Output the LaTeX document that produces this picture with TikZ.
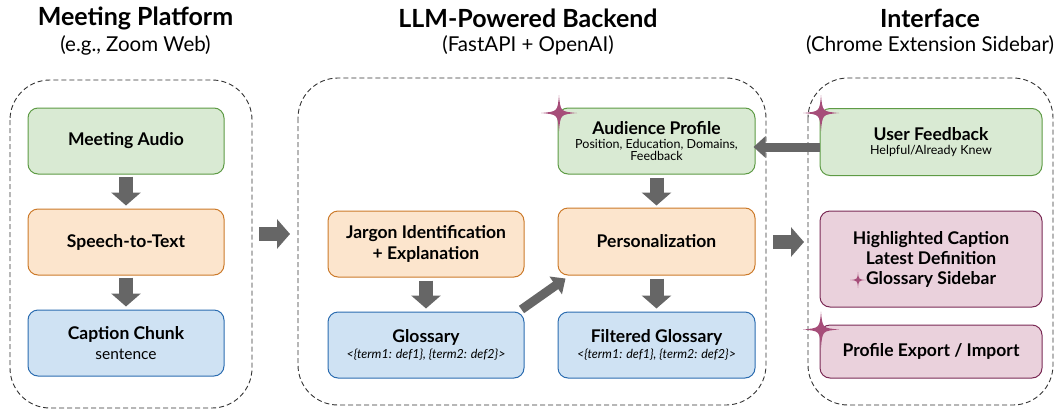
\documentclass[tikz,border=0pt]{standalone}
\usepackage{fontspec}
\setmainfont{Lato}
\usetikzlibrary{arrows.meta}
\definecolor{gfill}{HTML}{D9EAD3}\definecolor{gdraw}{HTML}{5E9B45}
\definecolor{ofill}{HTML}{FCE5CD}\definecolor{odraw}{HTML}{CC7A2A}
\definecolor{bfill}{HTML}{CFE2F3}\definecolor{bdraw}{HTML}{2B6CB0}
\definecolor{pfill}{HTML}{EAD1DC}\definecolor{pdraw}{HTML}{7A2A55}
\definecolor{arr}{HTML}{666666}
\definecolor{starc}{HTML}{A64D79}
\newcommand\spark[3]{\fill[starc,shift={(#1,#2)},scale=#3] (1,0) .. controls (0.08,0.08) .. (0,1) .. controls (-0.08,0.08) .. (-1,0) .. controls (-0.08,-0.08) .. (0,-1) .. controls (0.08,-0.08) .. (1,0) -- cycle;}
\newcommand\smallf{\fontsize{12.5}{14.5}\selectfont\mdseries}
\newcommand\boldf{\fontsize{17.5}{19}\selectfont\bfseries}
\tikzset{
  box/.style={draw,rounded corners=10pt,line width=1pt,align=center,inner sep=2pt},
  gbox/.style={box,fill=gfill,draw=gdraw},
  obox/.style={box,fill=ofill,draw=odraw},
  bbox/.style={box,fill=bfill,draw=bdraw},
  pbox/.style={box,fill=pfill,draw=pdraw},
  cont/.style={draw=black!80,dash pattern=on 5pt off 3pt,line width=0.9pt,rounded corners=40pt},
  bigarrow/.style={draw=arr,line width=14pt,-{Triangle[length=13pt,width=29pt]}},
  thinarrow/.style={draw=arr,line width=9pt,-{Triangle[length=12pt,width=21pt]}},
  ttl/.style={font=\fontsize{25}{30}\selectfont\bfseries},
  sub/.style={font=\fontsize{20.5}{24}\selectfont},
  bt/.style={font=\fontsize{17.5}{20}\selectfont\bfseries},
}
\begin{document}
\begin{tikzpicture}[x=1pt,y=-1pt]
\useasboundingbox (0,0) rectangle (1060,410);
% titles
\node[ttl] (t1) at (135.5,18) {Meeting Platform};
\node[sub] (s1) at (135.5,45) {(e.g., Zoom Web)};
\node[ttl] (t2) at (528,18) {LLM-Powered Backend};
\node[sub] (s2) at (528,45) {(FastAPI + OpenAI)};
\node[ttl] (t3) at (930,18) {Interface};
\node[sub] (s3) at (930,45) {(Chrome Extension Sidebar)};
% containers
\draw[cont] (10,80) rectangle (252,408);
\draw[cont] (298,78) rectangle (766,405);
\draw[cont] (808,78) rectangle (1053,405);
% left column
\node[gbox,minimum width=196pt,minimum height=66pt,bt] (ma) at (126,141) {Meeting Audio};
\node[obox,minimum width=196pt,minimum height=66pt,bt] (st) at (126,242) {Speech-to-Text};
\node[bbox,minimum width=196pt,minimum height=66pt] (cc) at (126,343) {\boldf Caption Chunk\\[5pt]\fontsize{15.5}{16}\selectfont\mdseries sentence};
% middle
\node[obox,minimum width=196pt,minimum height=66pt,font=\fontsize{17.5}{21}\selectfont\bfseries] (jg) at (426,244) {Jargon Identification\\+ Explanation};
\node[bbox,minimum width=196pt,minimum height=66pt] (gl) at (426,345) {\boldf Glossary\\[3pt]\fontsize{12.5}{14}\selectfont\mdseries\itshape <\{term1: def1\}, \{term2: def2\}>};
\node[gbox,minimum width=197pt,minimum height=66pt] (ap) at (656.5,141) {\boldf Audience Profile\\[2pt]\smallf Position, Education, Domains,\\\smallf Feedback};
\node[obox,minimum width=197pt,minimum height=67pt,bt] (ps) at (656.5,241.5) {Personalization};
\node[bbox,minimum width=197pt,minimum height=66pt] (fg) at (656.5,345) {\boldf Filtered Glossary\\[3pt]\fontsize{12.5}{14}\selectfont\mdseries\itshape <\{term1: def1\}, \{term2: def2\}>};
% right
\node[gbox,minimum width=222pt,minimum height=67pt] (uf) at (931,142) {\boldf User Feedback\\[2.5pt]\smallf Helpful/Already Knew};
\node[pbox,minimum width=222pt,minimum height=96pt,font=\fontsize{17.5}{20}\selectfont\bfseries] (hc) at (931,259) {Highlighted Caption\\Latest Definition\\Glossary Sidebar};
\node[pbox,minimum width=222pt,minimum height=53pt,bt] (pe) at (931,351.5) {Profile Export / Import};
% arrows
\draw[bigarrow] ([yshift=-2pt]ma.south) -- ([yshift=3pt]st.north);
\draw[bigarrow] ([yshift=-2pt]st.south) -- ([yshift=3pt]cc.north);
\coordinate (a1s) at (259,234);
\coordinate (a1e) at (290,234);
\draw[bigarrow] (a1s) -- (a1e);
\draw[bigarrow] ([yshift=-3pt]jg.south) -- ([yshift=3pt]gl.north);
\draw[bigarrow] ([yshift=-3pt]ap.south) -- ([yshift=2pt]ps.north);
\draw[bigarrow] ([yshift=-3pt]ps.south) -- ([yshift=3pt]fg.north);
\draw[thinarrow] ([xshift=-3pt,yshift=2pt]gl.north east) -- ([xshift=8pt,yshift=-3pt]ps.south west);
\draw[thinarrow] (uf.west |- 0,147) -- ([xshift=-2pt]ap.east |- 0,147);
\coordinate (a2s) at (773,242);
\coordinate (a2e) at (804,242);
\draw[bigarrow] (a2s) -- (a2e);
% sparkles
\spark{559}{113}{18}
\spark{821}{113}{18}
\spark{821}{329.5}{18}
\spark{858}{280}{8}
\end{tikzpicture}
\end{document}
